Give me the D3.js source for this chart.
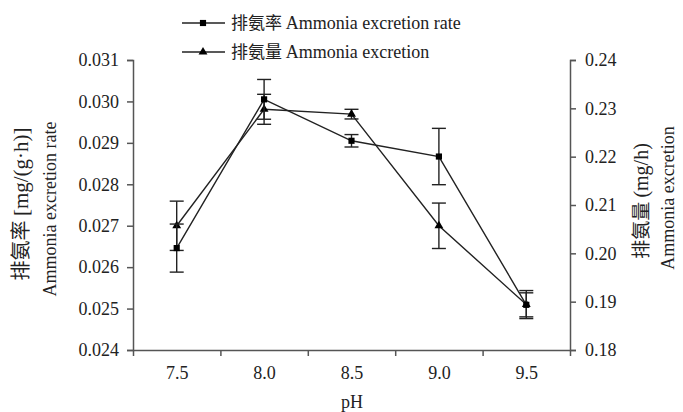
<!DOCTYPE html>
<html lang="zh">
<head>
<meta charset="UTF-8">
<script src="https://d3js.org/d3.v7.min.js"></script>
<style>
  body { margin: 0; background: #fff; }
  svg text { font-family: "Liberation Serif", "Times New Roman", "Noto Sans CJK SC", serif; fill: #222; }
</style>
</head>
<body>
<svg id="chart" width="683" height="412"></svg>
<script>
// data
const pH = [7.5, 8.0, 8.5, 9.0, 9.5];
const rate = [0.02646, 0.03005, 0.02905, 0.02867, 0.02509];       // mg/(g·h), left axis
const rateErr = [0.00058, 0.00048, 0.00015, 0.00068, 0.00029];
const excretion = [0.2057, 0.2298, 0.2288, 0.2057, 0.1894];       // mg/h, right axis
const excretionErr = [0.0051, 0.0031, 0.0010, 0.0047, 0.0029];
const leftTicks = [0.024, 0.025, 0.026, 0.027, 0.028, 0.029, 0.030, 0.031];
const rightTicks = [0.18, 0.19, 0.20, 0.21, 0.22, 0.23, 0.24];
const bandEdges = [7.25, 7.75, 8.25, 8.75, 9.25, 9.75];

const svg = d3.select("#chart");
const plotL = 133, plotR = 570, plotT = 60, plotB = 350;
const ink = "#222", axisCol = "#555";
const serif = "'Liberation Serif', 'Times New Roman', serif";
const cjk = "'Noto Sans CJK SC', sans-serif";

const x = d3.scaleLinear().domain([7.25, 9.75]).range([plotL, plotR]);
const yL = d3.scaleLinear().domain([0.024, 0.031]).range([plotB, plotT]);
const yR = d3.scaleLinear().domain([0.18, 0.24]).range([plotB, plotT]);

// axes
const gL = svg.append("g").attr("transform", `translate(${plotL},0)`)
  .call(d3.axisLeft(yL).tickValues(leftTicks).tickFormat(d3.format(".3f")).tickSize(6).tickPadding(8));
const gR = svg.append("g").attr("transform", `translate(${plotR},0)`)
  .call(d3.axisRight(yR).tickValues(rightTicks).tickFormat(d3.format(".2f")).tickSize(6).tickPadding(9));
const gX = svg.append("g").attr("transform", `translate(0,${plotB})`)
  .call(d3.axisBottom(x).tickValues(bandEdges).tickFormat("").tickSize(6).tickSizeOuter(0));
const gXl = svg.append("g").attr("transform", `translate(0,${plotB})`)
  .call(d3.axisBottom(x).tickValues(pH).tickFormat(d3.format(".1f")).tickSize(0).tickPadding(16));
gXl.select(".domain").remove();

[gL, gR, gX].forEach(g => {
  g.selectAll("path, line").attr("stroke", axisCol).attr("stroke-width", 1.5);
});
[gL, gR, gXl].forEach(g => {
  g.attr("font-family", null).attr("font-size", null);
  g.selectAll("text").attr("fill", "#222").style("font-size", "18px").style("font-family", serif);
});

// text helper: Chinese part and Latin part in separate tspans
function label(sel, zh, en, size) {
  size = size || 18;
  if (zh) sel.append("tspan").style("font-family", cjk).style("font-size", (size - 1) + "px").text(zh + " ");
  sel.append("tspan").style("font-family", serif).style("font-size", size + "px").text(en);
}

// axis titles
label(svg.append("text").attr("transform", "translate(22,204) rotate(-90)")
  .attr("text-anchor", "middle").attr("dy", "0.35em"), "排氨率", "[mg/(g·h)]", 21);
label(svg.append("text").attr("transform", "translate(50,209) rotate(-90)")
  .attr("text-anchor", "middle").attr("dy", "0.35em"), null, "Ammonia excretion rate");
label(svg.append("text").attr("transform", "translate(642,201) rotate(-90)")
  .attr("text-anchor", "middle").attr("dy", "0.35em"), "排氨量", "(mg/h)", 20);
label(svg.append("text").attr("transform", "translate(668,198) rotate(-90)")
  .attr("text-anchor", "middle").attr("dy", "0.35em"), null, "Ammonia excretion");
label(svg.append("text").attr("x", 352).attr("y", 408).attr("text-anchor", "middle"), null, "pH");

// series
const sq = d3.symbol().type(d3.symbolSquare).size(38);
const tri = d3.symbol().type(d3.symbolTriangle).size(34);

function drawSeries(vals, errs, y, symbol) {
  const pts = pH.map((p, i) => ({ p, v: vals[i], e: errs[i] }));
  const g = svg.append("g");
  const eb = g.selectAll(".eb").data(pts).enter().append("g").attr("stroke", ink).attr("stroke-width", 1.4);
  eb.append("line").attr("x1", d => x(d.p)).attr("x2", d => x(d.p))
    .attr("y1", d => y(d.v - d.e)).attr("y2", d => y(d.v + d.e));
  eb.append("line").attr("x1", d => x(d.p) - 7).attr("x2", d => x(d.p) + 7)
    .attr("y1", d => y(d.v + d.e)).attr("y2", d => y(d.v + d.e));
  eb.append("line").attr("x1", d => x(d.p) - 7).attr("x2", d => x(d.p) + 7)
    .attr("y1", d => y(d.v - d.e)).attr("y2", d => y(d.v - d.e));
  g.append("path").datum(pts)
    .attr("fill", "none").attr("stroke", ink).attr("stroke-width", 1.4)
    .attr("d", d3.line().x(d => x(d.p)).y(d => y(d.v)));
  g.selectAll(".m").data(pts).enter().append("path")
    .attr("transform", d => `translate(${x(d.p)},${y(d.v)})`)
    .attr("d", symbol()).attr("fill", "#000");
}
drawSeries(excretion, excretionErr, yR, tri);
drawSeries(rate, rateErr, yL, sq);

// legend
const legend = [
  { zh: "排氨率", en: "Ammonia excretion rate", symbol: sq, y: 23 },
  { zh: "排氨量", en: "Ammonia excretion", symbol: tri, y: 52 }
];
const lg = svg.selectAll(".lg").data(legend).enter().append("g");
lg.append("line").attr("x1", 182).attr("x2", 225).attr("y1", d => d.y).attr("y2", d => d.y)
  .attr("stroke", ink).attr("stroke-width", 1.4);
lg.append("path").attr("transform", d => `translate(203,${d.y})`).attr("d", d => d.symbol()).attr("fill", "#000");
lg.append("text").attr("x", 231).attr("y", d => d.y).attr("dy", "0.35em")
  .each(function (d) { label(d3.select(this), d.zh, d.en, 18); });
</script>
</body>
</html>
